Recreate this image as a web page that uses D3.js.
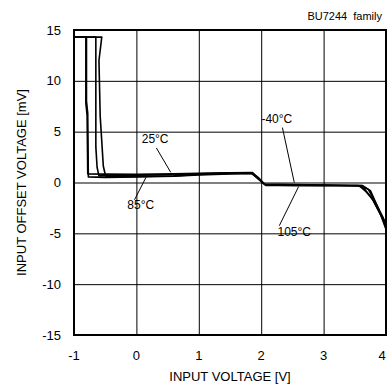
<!DOCTYPE html>
<html><head><meta charset="utf-8">
<script src="https://cdn.jsdelivr.net/npm/d3@7"></script>
<style>
body{margin:0;background:#fff;}
text{font-family:"Liberation Sans",Arial,sans-serif;fill:#000;}
</style></head>
<body><svg id="c" width="388" height="385"></svg>
<script>
// Data (input voltage V, offset voltage mV)
const xTicks = [-1, 0, 1, 2, 3, 4];
const yTicks = [-15, -10, -5, 0, 5, 10, 15];
const seriesNames = ["-40°C", "25°C", "85°C", "105°C"];
const vM40 = [-1,-0.555,-0.6,-0.58,-0.53,-0.49,0,0.6,1.0,1.5,1.84,1.95,2.06,2.5,3.0,3.55,3.65,3.8,3.95,4.0];
const oM40 = [14.3,14.3,12.0,6.5,1.6,0.55,0.6,0.65,0.8,0.9,0.92,0.4,-0.2,-0.25,-0.25,-0.3,-0.6,-1.8,-3.6,-4.5];
const v25 = [-1,-0.65,-0.65,-0.63,-0.6,-0.3,0,0.6,1.0,1.5,1.86,1.96,2.07,2.5,3.0,3.6,3.72,3.85,3.95,4.0];
const o25 = [14.3,14.3,3.5,1.5,0.65,0.7,0.72,0.78,0.85,0.95,0.97,0.4,-0.25,-0.28,-0.3,-0.3,-0.7,-2.2,-3.4,-4.3];
const v85 = [-1,-0.81,-0.81,-0.79,-0.78,-0.5,0,0.6,1.0,1.5,1.85,1.95,2.05,2.5,3.0,3.58,3.68,3.78,3.9,4.0];
const o85 = [14.3,14.3,7.8,6.6,0.85,0.82,0.8,0.85,0.9,0.95,0.95,0.5,-0.15,-0.2,-0.25,-0.35,-0.9,-1.6,-3.0,-4.0];
const v105 = [-1,-0.8,-0.8,-0.78,-0.77,-0.5,0,0.6,1.0,1.5,1.85,1.96,2.08,2.5,3.0,3.62,3.75,3.88,4.0];
const o105 = [14.3,14.3,8.0,6.8,0.55,0.5,0.55,0.62,0.75,0.85,0.9,0.3,-0.3,-0.3,-0.32,-0.3,-0.8,-2.6,-4.6];
const xVals = [vM40, v25, v85, v105];
const yVals = [oM40, o25, o85, o105];
// annotations
const annLabels = ["-40°C", "25°C", "85°C", "105°C"];
const annText = [[2.25, 5.9], [0.3, 3.9], [0.07, -2.6], [2.53, -5.3]];
const annFrom = [[2.34, 5.4], [0.32, 3.4], [-0.03, -1.7], [2.29, -4.25]];
const annTo = [[2.53, 0.0], [0.55, 1.0], [0.18, 0.82], [2.6, -0.4]];

const svg = d3.select("#c");
const L = 74, R = 386, T = 30, B = 335;
const x = d3.scaleLinear().domain([-1, 4]).range([L, R]);
const y = d3.scaleLinear().domain([-15, 15]).range([B, T]);

// grid via axes
const gx = svg.append("g").attr("transform", `translate(0,${B})`)
  .call(d3.axisBottom(x).tickValues(xTicks).tickSize(-(B - T)).tickFormat(""));
gx.select(".domain").remove();
gx.selectAll("line").attr("stroke", "#000").attr("stroke-width", 1);
const gy = svg.append("g").attr("transform", `translate(${L},0)`)
  .call(d3.axisLeft(y).tickValues(yTicks).tickSize(-(R - L)).tickFormat(""));
gy.select(".domain").remove();
gy.selectAll("line").attr("stroke", "#000").attr("stroke-width", 1);

// tick labels
svg.append("g").selectAll("text").data(xTicks).join("text")
  .attr("x", d => Math.min(x(d), 382)).attr("y", 360).attr("text-anchor", "middle")
  .attr("font-size", 13).text(d => d);
svg.append("g").selectAll("text").data(yTicks).join("text")
  .attr("x", 61).attr("y", d => y(d) + 4.5).attr("text-anchor", "end")
  .attr("font-size", 13).text(d => d);

// curves
const line = d3.line().x(d => x(d[0])).y(d => y(d[1]));
xVals.forEach((xs, i) => {
  const pts = xs.map((v, j) => [v, yVals[i][j]]);
  svg.append("path").attr("d", line(pts)).attr("fill", "none")
    .attr("stroke", "#000").attr("stroke-width", 1.6).attr("stroke-linejoin", "round");
});

// frame
svg.append("rect").attr("x", L).attr("y", T).attr("width", R - L).attr("height", B - T)
  .attr("fill", "none").attr("stroke", "#000").attr("stroke-width", 2);

// annotations
annLabels.forEach((lab, i) => {
  svg.append("line").attr("x1", x(annFrom[i][0])).attr("y1", y(annFrom[i][1]))
    .attr("x2", x(annTo[i][0])).attr("y2", y(annTo[i][1]))
    .attr("stroke", "#000").attr("stroke-width", 1);
  svg.append("text").attr("x", x(annText[i][0])).attr("y", y(annText[i][1]))
    .attr("text-anchor", "middle").attr("font-size", 12).text(lab);
});

// titles
svg.append("text").attr("x", 382).attr("y", 20).attr("text-anchor", "end")
  .attr("font-size", 11).attr("xml:space", "preserve").text("BU7244  family");
svg.append("text").attr("x", (L + R) / 2).attr("y", 381).attr("text-anchor", "middle")
  .attr("font-size", 13).text("INPUT VOLTAGE [V]");
svg.append("text").attr("transform", `translate(26,${(T + B) / 2}) rotate(-90)`)
  .attr("text-anchor", "middle").attr("font-size", 13).text("INPUT OFFSET VOLTAGE [mV]");
</script></body></html>
